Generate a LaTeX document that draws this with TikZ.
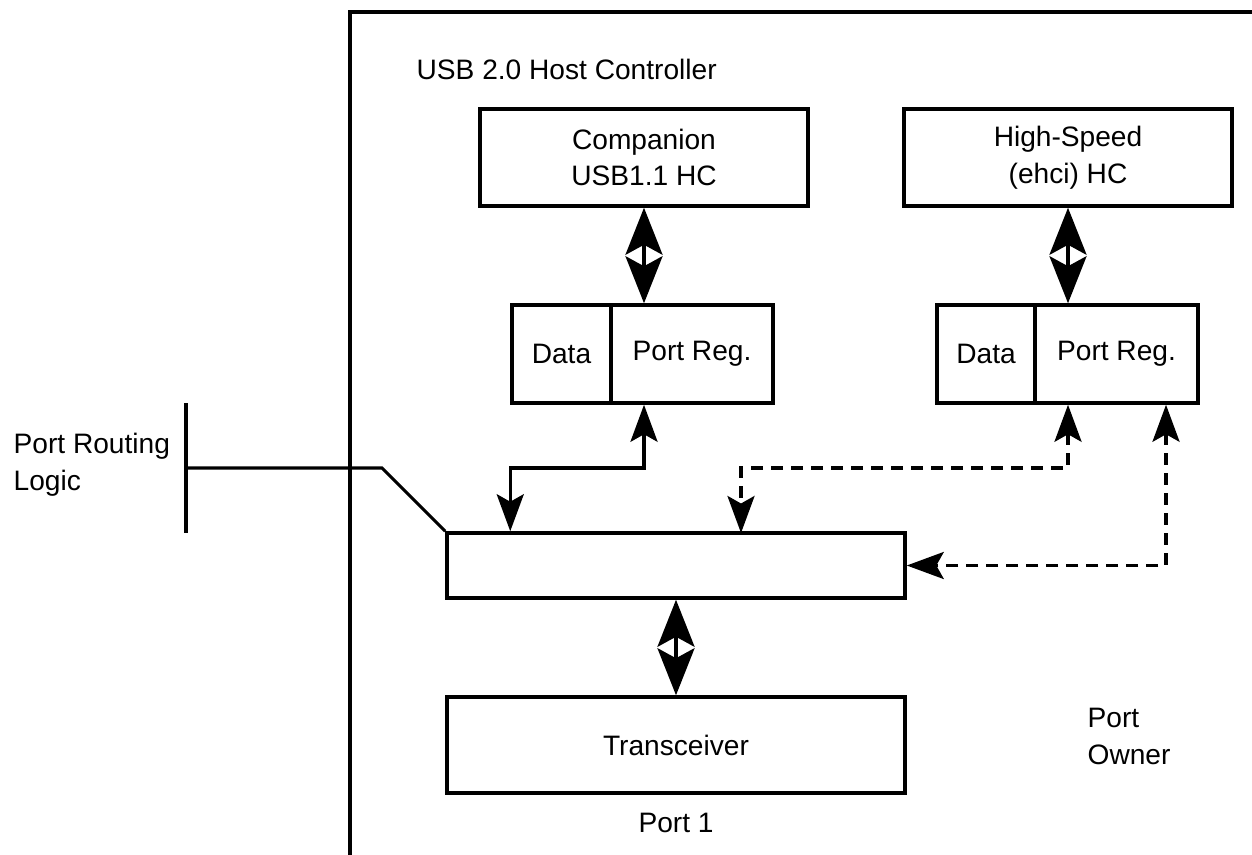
\documentclass[tikz,border=0pt]{standalone}
\usepackage{fontspec}
\setmainfont{Liberation Sans}
\usetikzlibrary{arrows.meta,calc}
\tikzset{
  >={Stealth[length=7.4mm,width=5.4mm,inset=1.5mm]},
  blk/.style={draw,line width=2pt,inner sep=0pt,align=center,font=\fontsize{16pt}{21pt}\selectfont},
  lbl/.style={inner sep=0pt,align=left,font=\fontsize{16pt}{21pt}\selectfont},
  big/.style={{Stealth[length=9.4mm,width=7.4mm,inset=2mm]}-{Stealth[length=9.4mm,width=7.4mm,inset=2mm]}},
  dsh/.style={dash pattern=on 2.4mm off 1.6mm},
  every picture/.style={line width=1.9pt},
}
\begin{document}
\begin{tikzpicture}
\useasboundingbox (0,0) rectangle (25.04,-17.1);
% host controller frame
\draw[line width=2pt] (7,-17.3) |- (25.3,-0.24);
\node[lbl,anchor=base west] (hc) at (8.3,-1.6){USB 2.0 Host Controller};
\node[blk,minimum width=6.56cm,minimum height=1.94cm] (comp) at (12.88,-3.15){Companion\\USB1.1 HC};
\node[blk,minimum width=6.56cm,minimum height=1.94cm] (hs) at (21.36,-3.15){High-Speed\\(ehci) HC};
\node[blk,minimum width=1.98cm,minimum height=1.96cm] (data1) at (11.23,-7.08){Data};
\node[blk,minimum width=3.24cm,minimum height=1.96cm] (preg1) at (13.84,-7.08){Port Reg.};
\node[blk,minimum width=1.96cm,minimum height=1.96cm] (data2) at (19.72,-7.08){Data};
\node[blk,minimum width=3.26cm,minimum height=1.96cm] (preg2) at (22.33,-7.08){Port Reg.};
\node[blk,minimum width=9.16cm,minimum height=1.3cm] (mux) at (13.52,-11.31){};
\node[blk,minimum width=9.16cm,minimum height=1.92cm] (trans) at (13.52,-14.9){Transceiver};
\node[lbl,anchor=base] (port) at (13.52,-16.64){Port 1};
\node[lbl,anchor=west] (own) at (21.72,-14.73){Port\\Owner};
\node[lbl,anchor=west] (prl) at (0.24,-9.29){Port Routing\\Logic};
\coordinate (bus) at (0,-9.36);
\coordinate (hsin) at (14.82,-10.66);
\coordinate (tap) at ($(preg2.south)+(0.99,0)$);
\coordinate (rtop) at (3.72,-8.06);
\coordinate (rbot) at (3.72,-10.66);
\coordinate (bend) at (7.64,-9.36);
% data paths
\draw[big] (comp.south) -- (comp.south |- preg1.north);
\draw[big] (hs.south) -- (hs.south |- preg2.north);
\draw[big] (mux.south) -- (trans.north);
\draw[<->] (comp.south |- preg1.south) -- (comp.south |- bus) -| (data1.west |- mux.north);
\draw[<->,dsh] (hs.south |- preg2.south) -- (hs.south |- bus) -| (hsin);
\draw[<->,dsh] (tap) |- (mux.east);
% routing logic
\draw[line width=1.8pt] (rtop) -- (rbot);
\draw[line width=1.8pt] (rtop |- bus) -- (bend) -- (mux.north west);
\end{tikzpicture}
\end{document}
